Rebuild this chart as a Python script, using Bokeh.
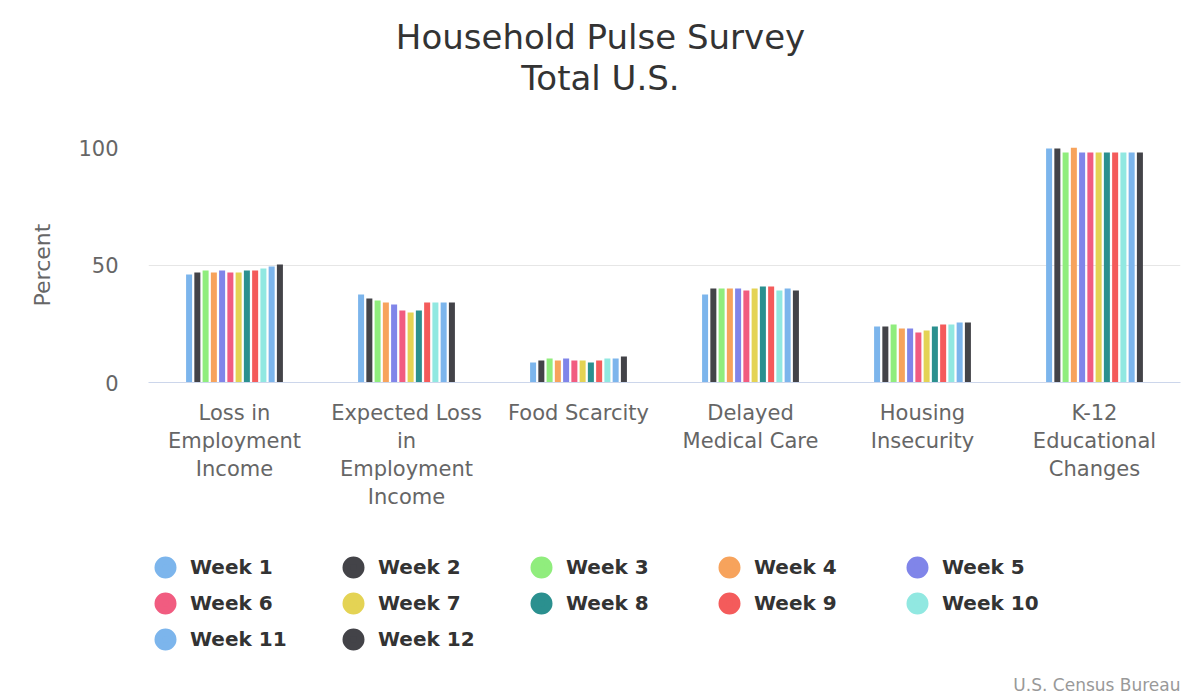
from bokeh.plotting import figure
from bokeh.models import (ColumnDataSource, FixedTicker, Legend, LegendItem, Label, Range1d)
from bokeh.layouts import column
from bokeh.transform import dodge
from bokeh.embed import file_html
from bokeh.resources import INLINE

categories = ["Loss in\nEmployment\nIncome", "Expected Loss\nin\nEmployment\nIncome",
              "Food Scarcity", "Delayed\nMedical Care", "Housing\nInsecurity",
              "K-12\nEducational\nChanges"]
weeks = ["Week 1", "Week 2", "Week 3", "Week 4", "Week 5", "Week 6",
         "Week 7", "Week 8", "Week 9", "Week 10", "Week 11", "Week 12"]

week1 = [46.0, 37.4, 8.5, 37.4, 23.8, 99.6]
week2 = [46.8, 35.7, 9.4, 40.0, 23.8, 99.6]
week3 = [47.7, 34.9, 10.2, 40.0, 24.7, 97.9]
week4 = [46.8, 34.0, 9.4, 40.0, 23.0, 100.0]
week5 = [47.7, 33.2, 10.2, 40.0, 23.0, 97.9]
week6 = [46.8, 30.6, 9.4, 39.1, 21.3, 97.9]
week7 = [46.8, 29.8, 9.4, 40.0, 22.1, 97.9]
week8 = [47.7, 30.6, 8.5, 40.9, 23.8, 97.9]
week9 = [47.7, 34.0, 9.4, 40.9, 24.7, 97.9]
week10 = [48.5, 34.0, 10.2, 39.1, 24.7, 97.9]
week11 = [49.4, 34.0, 10.2, 40.0, 25.5, 97.9]
week12 = [50.2, 34.0, 11.1, 39.1, 25.5, 97.9]
series = [week1, week2, week3, week4, week5, week6, week7, week8, week9, week10, week11, week12]

colors = ["#7cb5ec", "#434348", "#90ed7d", "#f7a35c", "#8085e9", "#f15c80",
          "#e4d354", "#2b908f", "#f45b5b", "#91e8e1", "#7cb5ec", "#434348"]

y_ticks = [0, 50, 100]
title_lines = ["Household Pulse Survey", "Total U.S."]
credit_text = "U.S. Census Bureau"

FONT = "DejaVu Sans"
W = 1196
FRAME_LEFT = 148   # the column aligns every figure's frame to the chart's frame


def blank(height):
    f = figure(width=W, height=height, output_backend="svg", toolbar_location=None,
               x_range=Range1d(0, 1), y_range=Range1d(0, 1),
               x_axis_location=None, y_axis_location=None, min_border=0)
    f.min_border_left = f.min_border_right = f.min_border_top = f.min_border_bottom = 0
    f.outline_line_color = None
    f.grid.grid_line_color = None
    return f


# ---- title area ----
tf = blank(110)
tf.add_layout(Label(x=600 - FRAME_LEFT, y=74, x_units="screen", y_units="screen",
                    text=title_lines[0], text_align="center", text_baseline="middle",
                    text_font=FONT, text_font_size="34px", text_color="#333333"))
tf.add_layout(Label(x=600 - FRAME_LEFT, y=33, x_units="screen", y_units="screen",
                    text=title_lines[1], text_align="center", text_baseline="middle",
                    text_font=FONT, text_font_size="34px", text_color="#333333"))

# ---- main chart ----
p = figure(x_range=categories, width=W, height=420, output_backend="svg",
           toolbar_location=None, min_border_left=FRAME_LEFT, min_border_right=16,
           min_border_top=37, min_border_bottom=148)
p.y_range = Range1d(0, 100)
p.outline_line_color = None

slot = 0.048
bar_w = 0.035
for i, (vals, col) in enumerate(zip(series, colors)):
    src = ColumnDataSource(dict(cat=categories, val=vals))
    p.vbar(x=dodge("cat", (i - 5.5) * slot, range=p.x_range), top="val", width=bar_w,
           source=src, fill_color=col, line_color=None)

p.xgrid.grid_line_color = None
p.ygrid.grid_line_color = "#e6e6e6"
p.yaxis.ticker = FixedTicker(ticks=y_ticks)
p.yaxis.axis_line_color = None
p.yaxis.major_tick_line_color = None
p.yaxis.minor_tick_line_color = None
p.yaxis.major_label_standoff = 24
p.yaxis.major_label_text_font = FONT
p.yaxis.major_label_text_font_size = "21px"
p.yaxis.major_label_text_color = "#666666"
p.yaxis.axis_label = "Percent"
p.yaxis.axis_label_text_font = FONT
p.yaxis.axis_label_text_font_size = "22px"
p.yaxis.axis_label_text_font_style = "normal"
p.yaxis.axis_label_text_color = "#666666"
p.yaxis.axis_label_standoff = 20

p.xaxis.axis_line_color = "#ccd6eb"
p.xaxis.major_tick_line_color = None
p.xaxis.minor_tick_line_color = None
p.xaxis.major_label_standoff = 12
p.xaxis.major_label_text_font = FONT
p.xaxis.major_label_text_font_size = "21px"
p.xaxis.major_label_text_color = "#666666"
p.xaxis.major_label_text_line_height = 1.17
p.x_range.range_padding = 0

# ---- legend area ----
lf = blank(168)
nan = float("nan")
items = []
for wk, col in zip(weeks, colors):
    dummy = lf.scatter(x=[nan], y=[nan], marker="circle", fill_color=col, line_color=col,
                       line_width=7.6)
    items.append(LegendItem(label=wk, renderers=[dummy]))

legend = Legend(items=items, ncols=5, orientation="horizontal", location=(147 - FRAME_LEFT, 41),
                glyph_width=36, glyph_height=36, label_standoff=7, label_width=145,
                label_height=36, spacing=0, padding=0, margin=0, border_line_color=None,
                background_fill_alpha=0, label_text_font=FONT, label_text_font_size="20px",
                label_text_font_style="bold", label_text_color="#333333")
lf.add_layout(legend, "center")
lf.add_layout(Label(x=1180 - FRAME_LEFT, y=14, x_units="screen", y_units="screen",
                    text=credit_text, text_align="right", text_baseline="middle",
                    text_font=FONT, text_font_size="17px", text_color="#999999"))

open("out.html", "w").write(file_html(column(tf, p, lf), INLINE))
